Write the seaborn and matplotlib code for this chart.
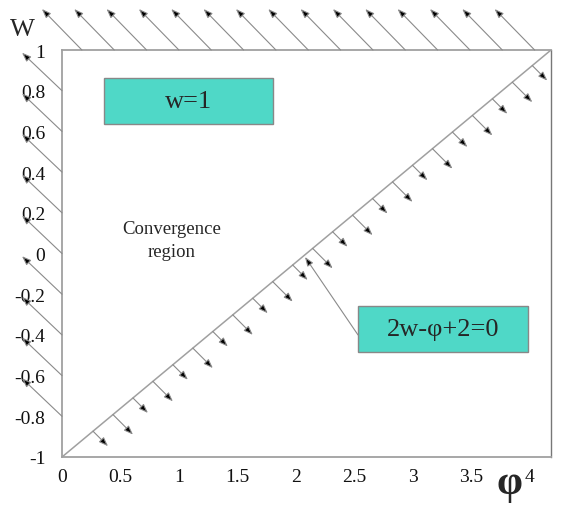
import numpy as np
import pandas as pd
import matplotlib.pyplot as plt
from matplotlib.patches import Rectangle
import seaborn as sns

# === DATOS ===
phi_line = [0.0, 4.18]          # recta 2w - phi + 2 = 0 (tal como aparece dibujada)
w_line = [-1.0, 1.0]
phi_ticks = [0, 0.5, 1, 1.5, 2, 2.5, 3, 3.5, 4]
w_ticks = [-1, -0.8, -0.6, -0.4, -0.2, 0, 0.2, 0.4, 0.6, 0.8, 1]
x_labels = ["0", "0.5", "1", "1.5", "2", "2.5", "3", "3.5", "4"]
y_labels = ["-1", "-0.8", "-0.6", "-0.4", "-0.2", "0", "0.2", "0.4", "0.6", "0.8", "1"]

# === ESTILO ===
sns.set_theme(style="white")
plt.rcParams["font.family"] = ["Liberation Serif", "DejaVu Serif"]

fig = plt.figure(figsize=(5.65, 5.06), dpi=100)
ax = fig.add_axes([62 / 565, 1 - 458 / 506, (551 - 62) / 565, (458 - 51) / 506])
ax.set_xlim(0, 4.18)
ax.set_ylim(-1, 1)

df = pd.DataFrame({"phi": phi_line, "w": w_line})
sns.lineplot(data=df, x="phi", y="w", color="#a0a0a0", lw=1.1, ax=ax)

gray = "#a0a0a0"
for side in ["left", "bottom", "top"]:
    ax.spines[side].set_color(gray)
    ax.spines[side].set_linewidth(1.3)
ax.spines["right"].set_color("#777777")
ax.spines["right"].set_linewidth(1.0)

ax.set_xticks(phi_ticks, x_labels)
ax.set_yticks(w_ticks, y_labels)
ax.tick_params(axis="y", direction="in", length=11, width=1, color=gray,
               pad=12, labelsize=14, labelcolor="#111111")
ax.tick_params(axis="x", direction="in", length=7, width=1, color=gray,
               pad=8, labelsize=14, labelcolor="#111111")
ax.set_xlabel("")
ax.set_ylabel("")


# flechitas de "sombreado" de las restricciones
def flecha(x, y, dx, dy):
    ax.annotate("", xy=(x, y), xytext=(dx, dy), textcoords="offset pixels",
                arrowprops=dict(arrowstyle="<|-,head_length=0.45,head_width=0.17",
                                ec="#8a8a8a", fc="black", lw=0.8,
                                shrinkA=0, shrinkB=0))


# w <= 1  (borde superior)
for x in np.linspace(0.17, 4.04, 15):
    flecha(x, 1, -40, 41)

# phi >= 0 (borde izquierdo)
for y in w_ticks[1:-1]:
    flecha(0, y, -40, 38)

# 2w - phi + 2 >= 0 (diagonal)
for i, x in enumerate(np.linspace(0.265, 4.02, 23)):
    y = np.interp(x, phi_line, w_line)
    d = 15 if i % 2 == 0 else 20
    flecha(x, y, d, -d)

# === CAJAS DE TEXTO ===
turq = "#4fd8c7"
ax.add_patch(Rectangle((0.359, 0.636), 1.444, 0.226, fc=turq, ec="#888888",
                       lw=1, zorder=3))
ax.text(1.08, 0.749, "w=1", ha="center", va="center", fontsize=19, zorder=4)

ax.add_patch(Rectangle((2.53, -0.484), 1.45, 0.226, fc=turq, ec="#888888",
                       lw=1, zorder=3))
ax.text(3.255, -0.371, "2w-φ+2=0", ha="center", va="center", fontsize=19, zorder=4)

ax.annotate("", xy=(2.077, -0.017), xytext=(2.53, -0.40),
            arrowprops=dict(arrowstyle="-|>,head_length=0.45,head_width=0.17",
                            ec="#8a8a8a", fc="black", lw=0.8,
                            shrinkA=0, shrinkB=0))

ax.text(0.94, 0.065, "Convergence\nregion", ha="center", va="center",
        fontsize=13.5, linespacing=1.45)

# etiquetas de ejes
fig.text(22 / 565, 1 - 30 / 506, "W", ha="center", va="center", fontsize=19)
fig.text(510 / 565, 1 - 484 / 506, "φ", ha="center", va="center", fontsize=30,
         fontweight="bold")

fig.savefig("out.png", dpi=100)
